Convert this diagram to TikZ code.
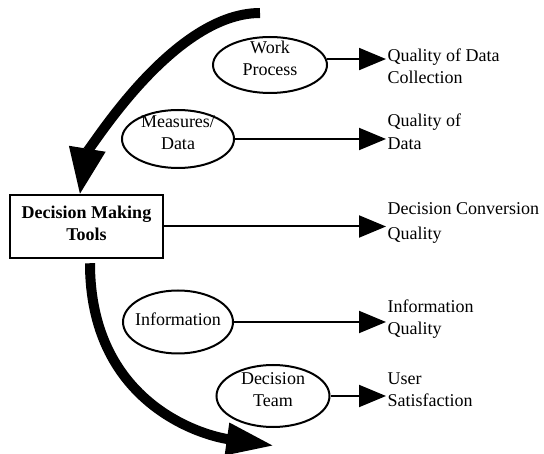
\documentclass[tikz,border=0pt]{standalone}
\usepackage{fontspec}
\setmainfont{Liberation Serif}
\usetikzlibrary{arrows.meta,shapes.geometric}
\newcommand{\ovaltext}[2]{\makebox[0pt]{\smash{\raisebox{#1}{\begin{tabular}[t]{@{}c@{}}#2\end{tabular}}}}}
\tikzset{
  ell/.style={draw, ellipse, line width=2pt, inner sep=0pt},
  toolbox/.style={draw, rectangle, line width=2.5pt, inner sep=0pt,
    minimum width=153pt, minimum height=63pt, font=\fontsize{18}{22}\selectfont\bfseries},
  lab/.style={anchor=base west, align=left, inner sep=1.5pt},
  conn/.style={line width=2pt, -{Triangle[length=27pt,width=22pt]}},
  flow/.style={line width=10pt},
}
\begin{document}
\begin{tikzpicture}[x=1pt,y=-1pt,font=\fontsize{18}{22}\selectfont]
\useasboundingbox (0,0) rectangle (544,454);

% central box
\node[toolbox] (dmt) at (86.5,226.5) {\ovaltext{8pt}{Decision Making\\Tools}};

% ellipses
\node[ell, minimum width=114pt, minimum height=56pt] (wp) at (270,65) {\ovaltext{11pt}{Work\\Process}};
\node[ell, minimum width=112pt, minimum height=58pt] (md) at (178,139) {\ovaltext{11pt}{Measures/\\Data}};
\node[ell, minimum width=110pt, minimum height=63pt] (inf) at (178,322) {\ovaltext{-4pt}{Information}};
\node[ell, minimum width=113pt, minimum height=62pt] (dt) at (273,396) {\ovaltext{11pt}{Decision\\Team}};

% labels (base anchor = baseline of last line)
\node[lab] (q1) at (386,84) {Quality of Data\\Collection};
\node[lab] (q2) at (386,150) {Quality of\\[1pt]Data};
\node[lab] (q3) at (386,240) {Decision Conversion\\[3pt]Quality};
\node[lab] (q4) at (386,335) {Information\\Quality};
\node[lab] (q5) at (386,407) {User\\Satisfaction};

% thin connectors
\draw[conn] (wp.6) -- (wp.6 -| q1.west);
\draw[conn] (md.east) -- (md.east -| q2.west);
\draw[conn] (dmt.east) -- (dmt.east -| q3.west);
\draw[conn] (inf.east) -- (inf.east -| q4.west);
\draw[conn] (dt.east) -- (dt.east -| q5.west);

% thick flow arcs
\coordinate (a1) at (260,13);
\coordinate (t2) at (274.5,445.8);
\draw[flow, -{Triangle[length=47pt,width=34pt]}]
  (a1) .. controls (170,13) and (85.7,158.4) .. ([xshift=-6.8pt,yshift=-1.4pt]dmt.north);
\draw[flow, -{Triangle[length=48pt,width=30pt]}]
  ([xshift=3.5pt,yshift=-4pt]dmt.south) .. controls (90,400) and (197.5,434.8) .. (t2);
\end{tikzpicture}
\end{document}
